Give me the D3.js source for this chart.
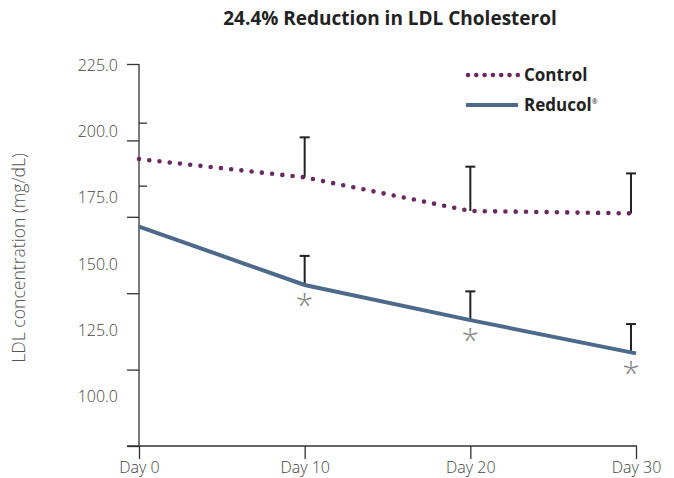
<!DOCTYPE html>
<html>
<head>
<meta charset="utf-8">
<script src="https://cdn.jsdelivr.net/npm/d3@7"></script>
<style>
  html, body { margin: 0; padding: 0; background: #fff; }
  svg { display: block; }
</style>
</head>
<body>
<svg id="chart" width="674" height="478"></svg>
<script>
// ---- data ----
const days = [0, 10, 20, 30];
const dayLabels = ["Day 0", "Day 10", "Day 20", "Day 30"];
const controlValues = [193.9, 187.9, 176.9, 176.1];
const controlErrTop = [null, 201.0, 191.4, 189.2];
const reducolValues = [171.8, 152.7, 141.2, 130.3];
const reducolErrTop = [null, 162.2, 150.6, 139.9];
const significant = [false, true, true, true];
const yTickValues = [100, 125, 150, 175, 200, 225];
const yMinorTicks = [185.2, 205.8];
const seriesNames = ["Control", "Reducol"];

// ---- layout ----
const svg = d3.select("#chart");
const colControl = "#6a2a61";
const colReducol = "#4d6a8b";
const font = "'Open Sans', 'Noto Sans', sans-serif";

const x = d3.scaleLinear().domain([0, 30]).range([139, 636]);
const y = d3.scaleLinear().domain([100, 225]).range([446, 64]);
const yLab = d3.scaleLinear().domain([100, 225]).range([396.5, 65]);

// title
svg.append("text")
  .attr("x", 390).attr("y", 25)
  .attr("text-anchor", "middle")
  .style("font-family", font).style("font-weight", 700)
  .style("font-size", "19px").attr("fill", "#222")
  .text("24.4% Reduction in LDL Cholesterol");

// y axis title
svg.append("text")
  .attr("transform", "translate(25,258) rotate(-90)")
  .attr("text-anchor", "middle")
  .style("font-family", font).style("font-weight", 300)
  .style("font-size", "17.6px").attr("fill", "#555")
  .text("LDL concentration (mg/dL)");

// y axis: tick marks
const gy = svg.append("g").attr("transform", "translate(139,0)")
  .call(d3.axisLeft(y).tickValues(yTickValues).tickSize(12).tickFormat(""));
gy.selectAll("path,line").attr("stroke", "#333").attr("stroke-width", 1.3);
gy.select(".domain").attr("d", `M0,${y(225)}V${y(100)}`);

// y axis: labels
const gyl = svg.append("g").attr("transform", "translate(139,0)")
  .call(d3.axisLeft(yLab).tickValues(yTickValues).tickSize(0).tickPadding(21).tickFormat(d3.format(".1f")));
gyl.select(".domain").remove();
gyl.selectAll("text").style("font-family", font).style("font-weight", 300)
  .style("font-size", "16px").attr("fill", "#444");

// minor inner ticks
const gym = svg.append("g").attr("transform", "translate(139,0)")
  .call(d3.axisRight(y).tickValues(yMinorTicks).tickSize(8).tickFormat(""));
gym.select(".domain").remove();
gym.selectAll("line").attr("stroke", "#333").attr("stroke-width", 1.3);

// x axis
const gx = svg.append("g").attr("transform", `translate(0,${y(100)})`)
  .call(d3.axisBottom(x).tickValues(days).tickSize(13).tickPadding(3)
    .tickFormat((d, i) => dayLabels[i]));
gx.select(".domain").attr("d", `M${x(0) - 12},0H${x(30) + 1}`);
gx.selectAll("path,line").attr("stroke", "#333").attr("stroke-width", 1.3);
gx.selectAll("line").attr("y1", 0);
gx.selectAll("text").style("font-family", font).style("font-weight", 300)
  .style("font-size", "16px").attr("fill", "#444");

// error bars (upper only)
function errorBars(tops, vals) {
  const g = svg.append("g").attr("stroke", "#222").attr("stroke-width", 2);
  days.forEach((d, i) => {
    if (tops[i] == null) return;
    const xi = x(d) - (i === days.length - 1 ? 5 : 0);
    g.append("line").attr("x1", xi).attr("x2", xi).attr("y1", y(vals[i])).attr("y2", y(tops[i]));
    g.append("line").attr("x1", xi - 5).attr("x2", xi + 5).attr("y1", y(tops[i])).attr("y2", y(tops[i]));
  });
}
errorBars(controlErrTop, controlValues);
errorBars(reducolErrTop, reducolValues);

const line = d3.line().x((d, i) => x(days[i])).y(d => y(d));

// control dotted line
svg.append("path").datum(controlValues)
  .attr("d", line).attr("fill", "none")
  .attr("stroke", colControl).attr("stroke-width", 4.6)
  .attr("stroke-linecap", "round").attr("stroke-dasharray", "0 10.3");

// reducol line
svg.append("path").datum(reducolValues)
  .attr("d", line).attr("fill", "none")
  .attr("stroke", colReducol).attr("stroke-width", 4);

// significance asterisks
svg.append("g").selectAll("text")
  .data(days.filter((d, i) => significant[i]))
  .join("text")
  .attr("x", d => x(d) - (d === 30 ? 5 : 0))
  .attr("y", d => y(reducolValues[days.indexOf(d)]) + 31)
  .attr("text-anchor", "middle")
  .style("font-family", font).style("font-size", "32px").style("font-weight", 300).attr("fill", "#888")
  .text("*");

// legend
const lg = svg.append("g");
lg.append("line").attr("x1", 468).attr("x2", 519).attr("y1", 75).attr("y2", 75)
  .attr("stroke", colControl).attr("stroke-width", 4.6)
  .attr("stroke-linecap", "round").attr("stroke-dasharray", "0 8.3");
lg.append("line").attr("x1", 466).attr("x2", 518).attr("y1", 105).attr("y2", 105)
  .attr("stroke", colReducol).attr("stroke-width", 4);
lg.append("text").attr("x", 524).attr("y", 81)
  .style("font-family", font).style("font-weight", 700).style("font-size", "17px")
  .attr("fill", "#222").text(seriesNames[0]);
const t2 = lg.append("text").attr("x", 524).attr("y", 111)
  .style("font-family", font).style("font-weight", 700).style("font-size", "17px")
  .attr("fill", "#222").text(seriesNames[1]);
t2.append("tspan").attr("dy", -7).style("font-size", "7px").style("font-weight", 400).text("®");
</script>
</body>
</html>
